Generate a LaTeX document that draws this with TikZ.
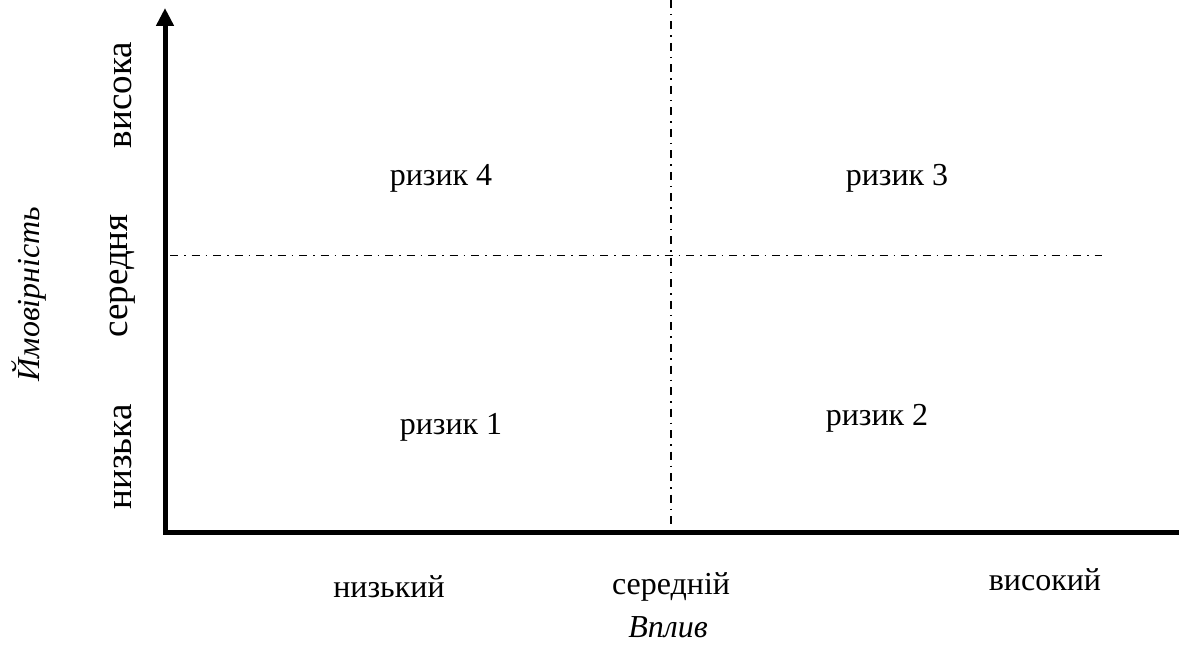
\documentclass[tikz,border=0pt]{standalone}
\usepackage{fontspec}
\setmainfont{Liberation Serif}
\usetikzlibrary{arrows.meta}
\begin{document}
\begin{tikzpicture}[x=1pt,y=-1pt,
  lbl/.style={inner sep=0pt,font=\fontsize{32}{38}\selectfont},
  vlbl/.style={inner sep=0pt,rotate=90,font=\fontsize{37}{44}\selectfont},
  axisline/.style={line width=5pt,line join=miter},
  grid/.style={line width=1.4pt,dash pattern=on 8pt off 6pt on 1.5pt off 6pt}]
\useasboundingbox (0,0) rectangle (1179,647);
\coordinate (top) at (165,8);
\coordinate (origin) at (165,532);
\coordinate (right) at (1179,532);
\coordinate (vtop) at (671,0);
\coordinate (vbot) at (671,530);
\coordinate (hl) at (170,255.5);
\coordinate (hr) at (1102,255.5);
\draw[grid] (vtop) -- (vbot);
\draw[grid] (hl) -- (hr);
\draw[axisline,{Triangle[width=17pt,length=18pt]}-] (top) -- (origin) -- (right);
\node[lbl] (r4) at (441,178) {ризик 4};
\node[lbl] (r3) at (897,178) {ризик 3};
\node[lbl] (r1) at (451,427) {ризик 1};
\node[lbl] (r2) at (877,418) {ризик 2};
\node[vlbl] (yh) at (123,95) {висока};
\node[vlbl] (ym) at (123,276) {середня};
\node[vlbl] (yl) at (123,457) {низька};
\node[lbl,rotate=90,font=\fontsize{32}{38}\selectfont\itshape] (ytitle) at (29,294) {Ймовірність};
\node[lbl] (xl) at (389,587) {низький};
\node[lbl] (xm) at (671,587) {середній};
\node[lbl] (xh) at (1045,580) {високий};
\node[lbl,font=\fontsize{32}{38}\selectfont\itshape] (xtitle) at (668,627) {Вплив};
\end{tikzpicture}
\end{document}
